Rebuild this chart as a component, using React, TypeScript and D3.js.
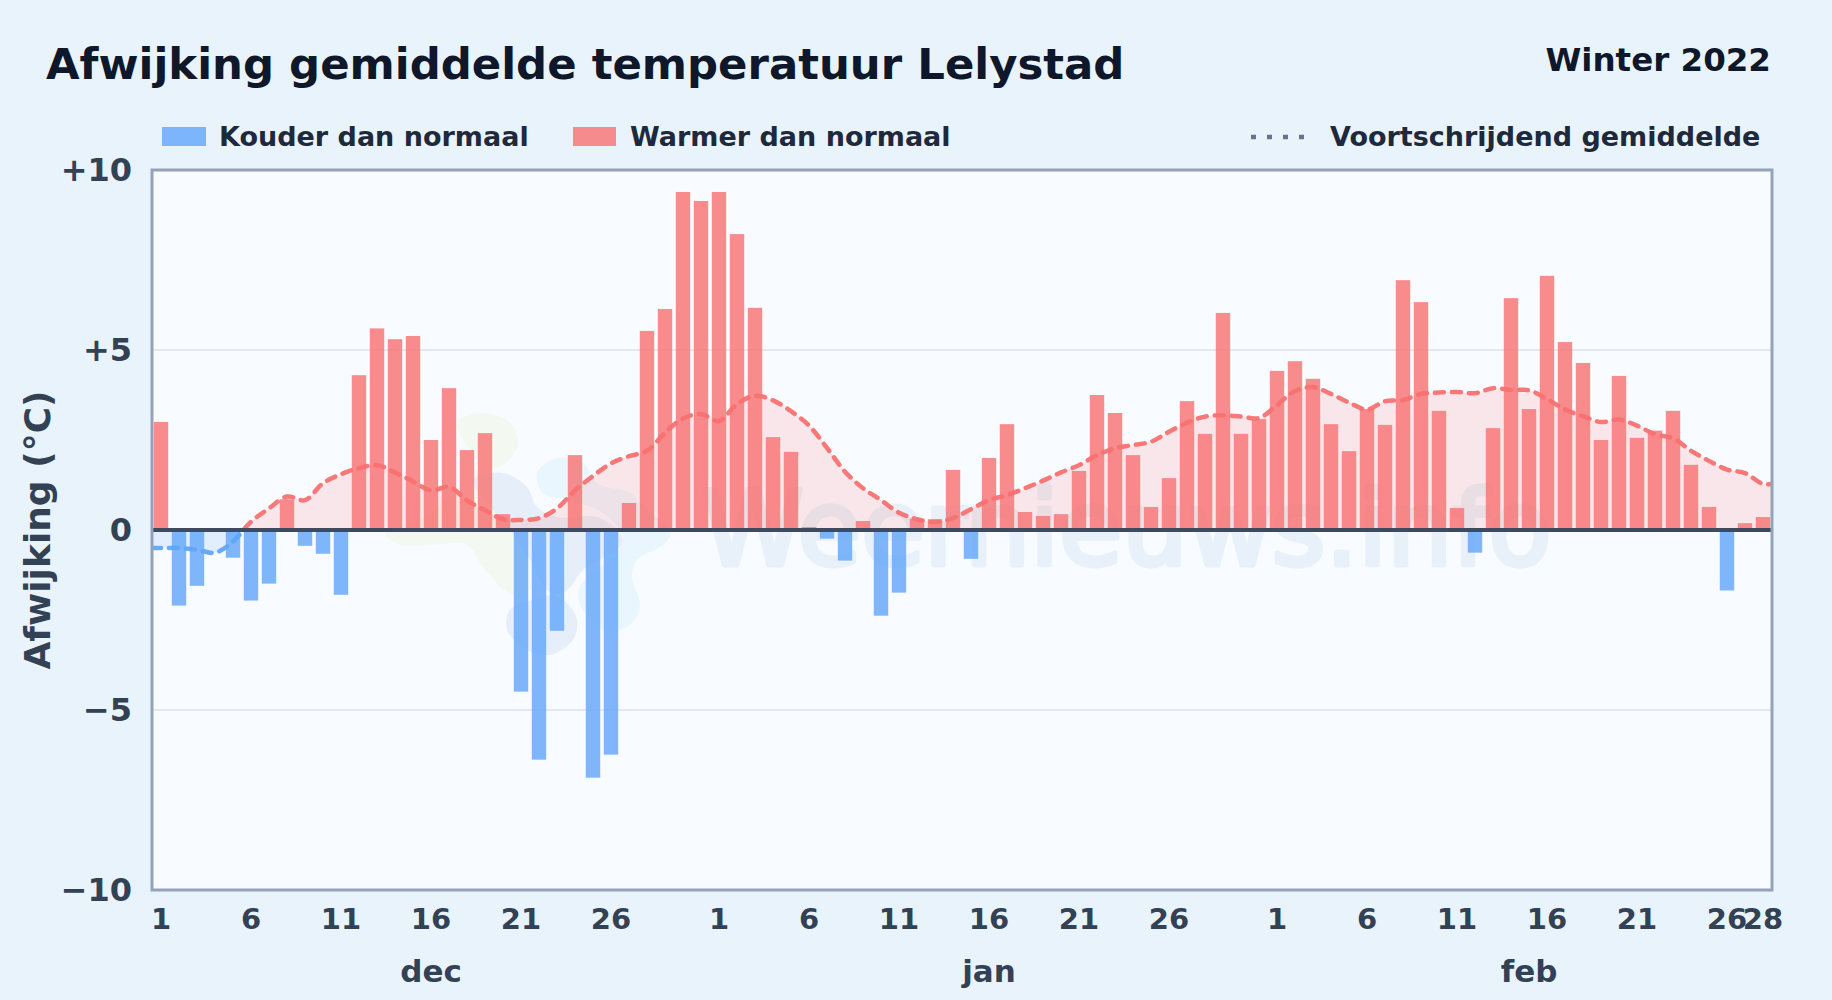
import * as d3 from 'd3'

const WIDTH = 1832
const HEIGHT = 1000
const PLOT = {left: 152, right: 1772, top: 170, bottom: 890}
const FONT = '"DejaVu Sans", sans-serif'

const months = [
  {name: 'dec', days: 31, ticks: [1, 6, 11, 16, 21, 26]},
  {name: 'jan', days: 31, ticks: [1, 6, 11, 16, 21, 26]},
  {name: 'feb', days: 28, ticks: [1, 6, 11, 16, 21, 26, 28]},
]

const decValues = [
  3.0, -2.1, -1.55, 0, -0.77, -1.96, -1.49, 0.85, -0.44, -0.66, -1.8, 4.3, 5.6, 5.3, 5.39, 2.5,
  3.94, 2.22, 2.69, 0.44, -4.49, -6.38, -2.8, 2.08, -6.88, -6.24, 0.75, 5.53, 6.14, 9.39, 9.14,
]
const janValues = [
  9.39, 8.22, 6.17, 2.58, 2.17, 0.08, -0.24, -0.85, 0.25, -2.38, -1.74, 0.31, 0.3, 1.67, -0.8, 2.0,
  2.94, 0.5, 0.39, 0.44, 1.64, 3.75, 3.25, 2.08, 0.64, 1.44, 3.58, 2.67, 6.03, 2.67, 3.08,
]
const febValues = [
  4.42, 4.69, 4.2, 2.94, 2.19, 3.36, 2.92, 6.94, 6.33, 3.31, 0.61, -0.63, 2.83, 6.44, 3.36, 7.06,
  5.22, 4.64, 2.5, 4.28, 2.56, 2.76, 3.31, 1.81, 0.64, -1.68, 0.19, 0.36,
]
const decAverage = [
  -0.5, -0.5, -0.55, -0.63, -0.32, 0.23, 0.6, 0.93, 0.83, 1.3, 1.55, 1.72, 1.8, 1.6, 1.35, 1.1,
  1.2, 0.82, 0.55, 0.3, 0.28, 0.33, 0.6, 1.1, 1.5, 1.85, 2.05, 2.2, 2.7, 3.1, 3.22,
]
const janAverage = [
  3.03, 3.5, 3.73, 3.6, 3.3, 2.9, 2.28, 1.62, 1.16, 0.83, 0.48, 0.3, 0.22, 0.33, 0.58, 0.83,
  0.97, 1.16, 1.37, 1.6, 1.8, 2.08, 2.27, 2.36, 2.45, 2.73, 2.98, 3.15, 3.19, 3.15, 3.11,
]
const febAverage = [
  3.47, 3.86, 3.97, 3.78, 3.54, 3.35, 3.58, 3.61, 3.78, 3.82, 3.83, 3.8, 3.94, 3.89, 3.88, 3.64,
  3.35, 3.16, 3.0, 3.07, 2.9, 2.66, 2.55, 2.2, 1.92, 1.68, 1.58, 1.28,
]

const yTicks = [10, 5, 0, -5, -10]
const yLabels = ['+10', '+5', '0', '\u22125', '\u221210']

// faint logo behind the bars, only decoration
const logoGreen: [number, number][] = [
  [457, 423], [483, 413], [510, 423], [518, 443], [503, 465], [477, 470], [457, 490], [420, 520],
  [385, 533], [400, 545], [430, 545], [467, 545], [483, 567], [510, 593], [530, 590], [530, 540], [510, 500],
]
const logoGrey: [number, number][] = [
  [473, 480], [503, 473], [527, 487], [537, 507], [557, 517], [597, 517], [617, 530], [623, 543],
  [583, 570], [567, 590], [543, 597], [510, 610], [507, 630], [527, 650], [550, 655], [573, 640],
  [577, 620], [567, 603], [547, 590], [530, 560], [510, 530],
]
const logoBlue: [number, number][] = [
  [537, 473], [557, 458], [583, 463], [597, 483], [630, 493], [640, 503], [670, 533], [663, 545],
  [637, 560], [632, 577], [640, 607], [627, 627], [603, 630], [583, 610], [578, 593], [587, 577],
  [617, 553], [623, 537], [603, 513], [567, 500], [543, 493],
]

const values = [...decValues, ...janValues, ...febValues]
const average = [...decAverage, ...janAverage, ...febAverage]

const xScale = d3
  .scaleBand<number>()
  .domain(d3.range(values.length))
  .range([PLOT.left, PLOT.right])
  .paddingInner(0.2)
  .paddingOuter(0.1)
const yScale = d3.scaleLinear().domain([-10, 10]).range([PLOT.bottom, PLOT.top])
const center = (i: number) => (xScale(i) as number) + xScale.bandwidth() / 2

export default function App() {
  const zero = yScale(0)

  // the average runs from border to border, flat past the first and last day
  const avgPoints: [number, number][] = [
    [PLOT.left, average[0]],
    ...average.map((v, i): [number, number] => [center(i), v]),
    [PLOT.right, average[average.length - 1]],
  ]
  const lineGen = d3
    .line<[number, number]>()
    .x(d => d[0])
    .y(d => yScale(d[1]))
    .curve(d3.curveCatmullRom.alpha(0.5))
  const areaGen = d3
    .area<[number, number]>()
    .x(d => d[0])
    .y0(zero)
    .y1(d => yScale(d[1]))
    .curve(d3.curveCatmullRom.alpha(0.5))
  const blob = d3.line().curve(d3.curveCatmullRomClosed.alpha(0.5))

  let offset = 0
  const xTicks = months.flatMap(m => {
    const ticks = m.ticks.map(t => ({label: t, index: offset + t - 1}))
    offset += m.days
    return ticks
  })
  let monthStart = 0
  const monthLabels = months.map(m => {
    const index = monthStart + Math.floor(m.days / 2)
    monthStart += m.days
    return {name: m.name, index}
  })

  return (
    <svg
      width={WIDTH}
      height={HEIGHT}
      style={{position: 'absolute', left: 0, top: 0}}
      fontFamily={FONT}>
      <defs>
        <clipPath id="above">
          <rect x={PLOT.left} y={PLOT.top} width={PLOT.right - PLOT.left} height={zero - PLOT.top} />
        </clipPath>
        <clipPath id="below">
          <rect x={PLOT.left} y={zero} width={PLOT.right - PLOT.left} height={PLOT.bottom - zero} />
        </clipPath>
      </defs>
      <rect width={WIDTH} height={HEIGHT} fill="#e9f3fc" />

      <text x={46} y={79} fontSize={43.4} fontWeight={700} fill="#0f172a">
        Afwijking gemiddelde temperatuur Lelystad
      </text>
      <text x={1771} y={71} textAnchor="end" fontSize={32.5} fontWeight={700} fill="#0f172a">
        Winter 2022
      </text>

      <rect x={162} y={127} width={44} height={19} fill="#60a5fa" opacity={0.8} />
      <text x={219} y={146} fontSize={27} fontWeight={700} fill="#1e293b">
        Kouder dan normaal
      </text>
      <rect x={573} y={127} width={43} height={19} fill="#f87171" opacity={0.8} />
      <text x={630} y={146} fontSize={27} fontWeight={700} fill="#1e293b">
        Warmer dan normaal
      </text>
      <line
        x1={1251}
        x2={1307}
        y1={137}
        y2={137}
        stroke="#64748b"
        strokeWidth={4.5}
        strokeDasharray="5 11"
      />
      <text x={1330} y={146} fontSize={27} fontWeight={700} fill="#1e293b">
        Voortschrijdend gemiddelde
      </text>

      <rect
        x={PLOT.left}
        y={PLOT.top}
        width={PLOT.right - PLOT.left}
        height={PLOT.bottom - PLOT.top}
        fill="#f8fbff"
      />
      {yTicks
        .filter(t => Math.abs(t) === 5)
        .map(t => (
          <line
            key={t}
            x1={PLOT.left}
            x2={PLOT.right}
            y1={yScale(t)}
            y2={yScale(t)}
            stroke="#e2e8f0"
            strokeWidth={2}
          />
        ))}

      <path d={blob(logoGreen) as string} fill="#f3f9f0" />
      <path d={blob(logoGrey) as string} fill="#e6eff9" />
      <path d={blob(logoBlue) as string} fill="#e8f4fd" opacity={0.85} />
      <text
        x={702}
        y={565}
        fontSize={103}
        fill="#e8f1fa"
        stroke="#e8f1fa"
        strokeWidth={5}
        strokeLinejoin="round">
        Weernieuws.info
      </text>

      <path d={areaGen(avgPoints) as string} fill="#f87171" opacity={0.15} clipPath="url(#above)" />
      <path d={areaGen(avgPoints) as string} fill="#60a5fa" opacity={0.15} clipPath="url(#below)" />

      {values.map((v, i) => (
        <rect
          key={i}
          x={xScale(i)}
          width={xScale.bandwidth()}
          y={yScale(Math.max(v, 0))}
          height={Math.abs(yScale(v) - zero)}
          fill={v < 0 ? '#60a5fa' : '#f87171'}
          opacity={0.8}
        />
      ))}

      <path
        d={lineGen(avgPoints) as string}
        fill="none"
        stroke="#f87171"
        strokeWidth={4.5}
        strokeDasharray="9 8"
        strokeLinecap="round"
        opacity={0.95}
        clipPath="url(#above)"
      />
      <path
        d={lineGen(avgPoints) as string}
        fill="none"
        stroke="#60a5fa"
        strokeWidth={4.5}
        strokeDasharray="9 8"
        strokeLinecap="round"
        opacity={0.95}
        clipPath="url(#below)"
      />

      <line x1={PLOT.left} x2={PLOT.right} y1={zero} y2={zero} stroke="#3d4a5f" strokeWidth={4} />
      <rect
        x={PLOT.left}
        y={PLOT.top}
        width={PLOT.right - PLOT.left}
        height={PLOT.bottom - PLOT.top}
        fill="none"
        stroke="#94a3b8"
        strokeWidth={3}
      />

      {yTicks.map((t, i) => (
        <text
          key={t}
          x={132}
          y={yScale(t) + 11}
          textAnchor="end"
          fontSize={32}
          fontWeight={700}
          fill="#334155">
          {yLabels[i]}
        </text>
      ))}
      {xTicks.map(t => (
        <text
          key={t.index}
          x={center(t.index)}
          y={929}
          textAnchor="middle"
          fontSize={29}
          fontWeight={700}
          fill="#334155">
          {t.label}
        </text>
      ))}
      {monthLabels.map(m => (
        <text
          key={m.name}
          x={center(m.index)}
          y={982}
          textAnchor="middle"
          fontSize={31}
          fontWeight={700}
          fill="#334155">
          {m.name}
        </text>
      ))}
      <text
        transform="translate(50,530) rotate(-90)"
        textAnchor="middle"
        fontSize={36}
        fontWeight={700}
        fill="#334155">
        Afwijking (°C)
      </text>
    </svg>
  )
}
